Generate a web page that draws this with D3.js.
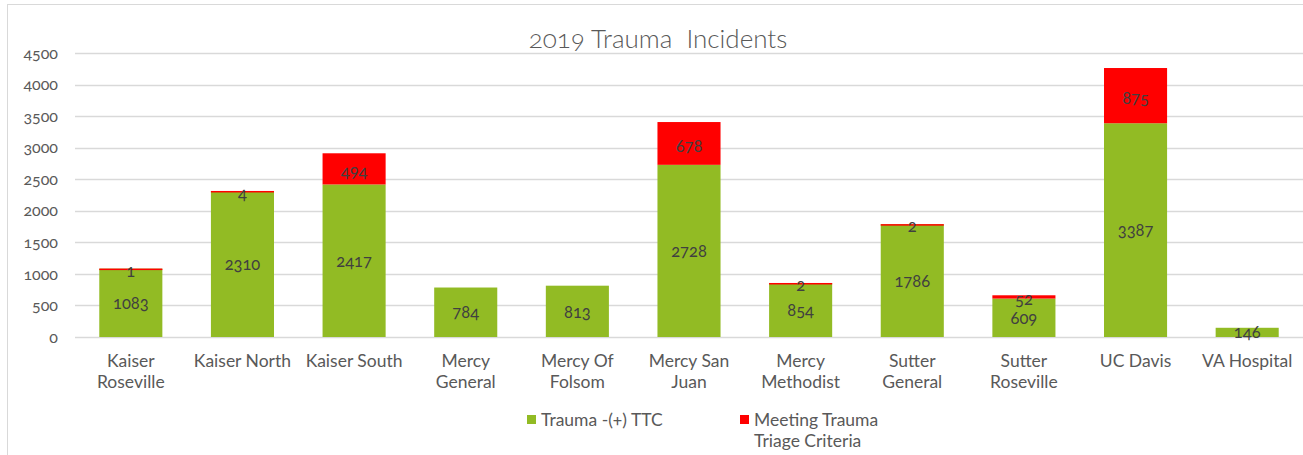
<!DOCTYPE html>
<html>
<head>
<meta charset="utf-8">
<script src="https://cdn.jsdelivr.net/npm/d3@7"></script>
<style>
  body { margin: 0; background: #fff; }
  svg text { font-family: Lato, "Open Sans", sans-serif; font-variant-numeric: oldstyle-nums; white-space: pre; }
</style>
</head>
<body>
<div id="chart"></div>
<script>
var hospitals = ["Kaiser Roseville", "Kaiser North", "Kaiser South", "Mercy General", "Mercy Of Folsom",
  "Mercy San Juan", "Mercy Methodist", "Sutter General", "Sutter Roseville", "UC Davis", "VA Hospital"]
// label lines under each bar
var hospital_lines = [["Kaiser", "Roseville"], ["Kaiser North"], ["Kaiser South"], ["Mercy", "General"], ["Mercy Of", "Folsom"],
  ["Mercy San", "Juan"], ["Mercy", "Methodist"], ["Sutter", "General"], ["Sutter", "Roseville"], ["UC Davis"], ["VA Hospital"]]
var trauma_ttc = [1083, 2310, 2417, 784, 813, 2728, 854, 1786, 609, 3387, 146]
var meeting_ttc = [1, 4, 494, 0, 0, 678, 2, 2, 52, 875, 0]
var y_ticks = [0, 500, 1000, 1500, 2000, 2500, 3000, 3500, 4000, 4500]
var series_names = ["Trauma -(+) TTC", "Meeting Trauma|Triage Criteria"]
var series_colours = ["#92bb24", "#ff0000"]

var W = 1303, H = 455
var margin = {top: 53, right: 0, bottom: 118, left: 75}
var width = W - margin.left - margin.right,
    height = H - margin.top - margin.bottom

var svg = d3.select("#chart").append("svg")
  .attr("width", W).attr("height", H)

// outer chart frame
svg.append("rect")
  .attr("x", 7.5).attr("y", 4.5)
  .attr("width", W + 10).attr("height", H + 10)
  .attr("fill", "none").attr("stroke", "#d9d9d9")

// clipped figure caption at the very top
svg.append("text").attr("x", 14).attr("y", -3)
  .style("font-size", "16px").attr("fill", "#000").text("Fig")

var x = d3.scaleBand().domain(hospitals).range([0, width]).paddingInner(0.435).paddingOuter(0.2175)
var y = d3.scaleLinear().domain([0, 4500]).range([height, 0])

var g = svg.append("g").attr("transform", "translate(" + margin.left + "," + margin.top + ")")

// grid
g.selectAll("line.grid").data(y_ticks).enter().append("line")
  .attr("class", "grid")
  .attr("x1", 0).attr("x2", width)
  .attr("y1", function(d){ return Math.round(y(d)) + 0.5 })
  .attr("y2", function(d){ return Math.round(y(d)) + 0.5 })
  .attr("stroke", "#d9d9d9").attr("stroke-width", 1.3)

// y axis labels
var yAxis = g.append("g").call(d3.axisLeft(y).tickValues(y_ticks).tickFormat(d3.format("d")).tickSize(0).tickPadding(17))
yAxis.select(".domain").remove()
yAxis.selectAll("text").style("font-size", "16px").attr("fill", "#595959")

var stack = hospitals.map(function(h, i){
  return {name: h, green: trauma_ttc[i], red: meeting_ttc[i]}
})

// green segments
g.selectAll("rect.green").data(stack).enter().append("rect")
  .attr("x", function(d){ return x(d.name) })
  .attr("width", x.bandwidth())
  .attr("y", function(d){ return y(d.green) })
  .attr("height", function(d){ return y(0) - y(d.green) })
  .attr("fill", series_colours[0])

// red segments
g.selectAll("rect.red").data(stack.filter(function(d){ return d.red > 0 })).enter().append("rect")
  .attr("x", function(d){ return x(d.name) })
  .attr("width", x.bandwidth())
  .attr("y", function(d){ return y(d.green + d.red) })
  .attr("height", function(d){ return Math.max(1.5, y(d.green) - y(d.green + d.red)) })
  .attr("fill", series_colours[1])

// value labels
g.selectAll("text.gl").data(stack).enter().append("text")
  .attr("x", function(d){ return x(d.name) + x.bandwidth() / 2 })
  .attr("y", function(d){ return Math.min(y(d.green / 2), y(0) - 5) + 2 })
  .attr("text-anchor", "middle").attr("dominant-baseline", "middle")
  .style("font-size", "16.5px").attr("fill", "#404040")
  .text(function(d){ return d.green })

g.selectAll("text.rl").data(stack.filter(function(d){ return d.red > 0 })).enter().append("text")
  .attr("x", function(d){ return x(d.name) + x.bandwidth() / 2 })
  .attr("y", function(d){ return y(d.green + d.red / 2) + 4 })
  .attr("text-anchor", "middle").attr("dominant-baseline", "middle")
  .style("font-size", "16.5px").attr("fill", "#404040")
  .text(function(d){ return d.red })

// category labels
hospitals.forEach(function(h, i){
  var t = g.append("text")
    .attr("x", x(h) + x.bandwidth() / 2)
    .attr("y", height + 30)
    .attr("text-anchor", "middle")
    .style("font-size", "17.5px").attr("fill", "#595959")
  hospital_lines[i].forEach(function(line, j){
    t.append("tspan").attr("x", x(h) + x.bandwidth() / 2).attr("dy", j == 0 ? 0 : 21).text(line)
  })
})

// title
svg.append("text")
  .attr("x", 658).attr("y", 48)
  .attr("text-anchor", "middle")
  .style("font-size", "26px").style("font-weight", 300).attr("fill", "#595959")
  .text("2019 Trauma  Incidents")

// legend
var legend_x = [527, 740]
series_names.forEach(function(name, i){
  svg.append("rect").attr("x", legend_x[i]).attr("y", 415).attr("width", 9).attr("height", 9)
    .attr("fill", series_colours[i])
  var t = svg.append("text").attr("x", legend_x[i] + 14).attr("y", 426)
    .style("font-size", "17.5px").attr("fill", "#595959")
  name.split("|").forEach(function(line, j){
    t.append("tspan").attr("x", legend_x[i] + 14).attr("dy", j == 0 ? 0 : 21).text(line)
  })
})
</script>
</body>
</html>
